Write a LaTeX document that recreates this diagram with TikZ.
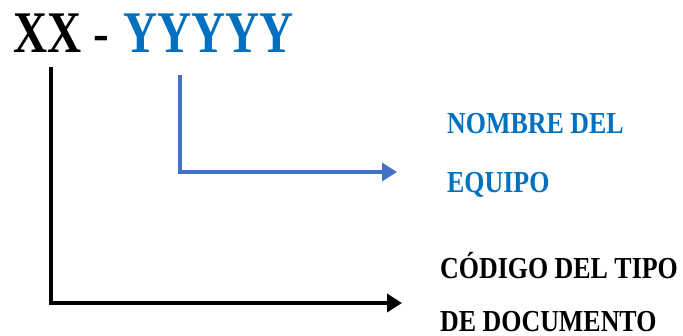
\documentclass[tikz,border=0pt]{standalone}
\usepackage{fontspec}
\setmainfont{Liberation Serif}
\newfontfamily\narrowserif[FakeStretch=0.80]{Liberation Serif}
\newfontfamily\captionserif[FakeStretch=0.85]{Liberation Serif}
\usetikzlibrary{arrows.meta}

\definecolor{codeblue}{HTML}{0070C0}
\definecolor{arrowblue}{HTML}{4472C4}

\begin{document}
\begin{tikzpicture}[x=1pt, y=-1pt,
   every node/.style={inner sep=0pt, anchor=base west},
   code/.style={font=\narrowserif\bfseries\fontsize{59}{59}\selectfont},
   caption/.style={font=\captionserif\bfseries\fontsize{30.5}{56}\selectfont, align=left},
   conn/.style={line width=3.5pt, -{Triangle[length=15pt,width=18pt]}}]
\useasboundingbox (0,0) rectangle (683,335);
% the code and its two parts
\node[code]                  (xx)    at (13,52)  {XX};
\node[font=\narrowserif\fontsize{59}{59}\selectfont] (dash) at (93,52) {-};
\node[code, text=codeblue]   (yy)    at (123,52) {YYYYY};
% what each part stands for (anchored on the last line)
\node[caption, text=codeblue] (equipo) at (447,192) {NOMBRE DEL\\[3pt]EQUIPO};
\node[caption]                (tipo)   at (440,331) {CÓDIGO DEL TIPO\\[-3pt]DE DOCUMENTO};
\coordinate (xx-tap)     at (51,67);
\coordinate (yy-tap)     at (180,75);
\coordinate (equipo-end) at (397,172);
\coordinate (tipo-end)   at (402,303);
% connectors
\draw[conn, arrowblue] (yy-tap) |- (equipo-end);
\draw[conn, black]     (xx-tap) |- (tipo-end);
\end{tikzpicture}
\end{document}
